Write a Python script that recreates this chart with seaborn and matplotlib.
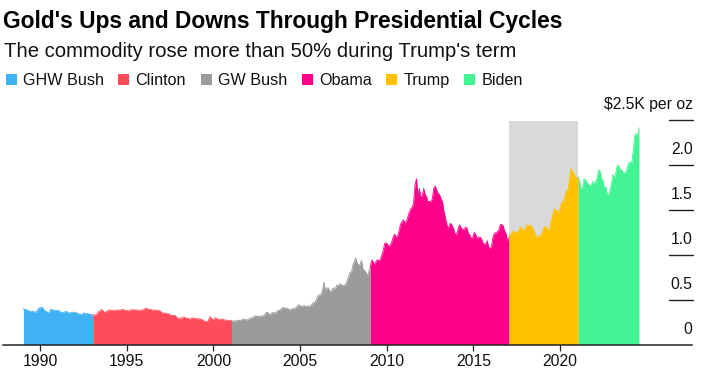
import numpy as np
import pandas as pd
import matplotlib
matplotlib.use("Agg")
import matplotlib.pyplot as plt
import matplotlib.transforms as mtransforms
from matplotlib.patches import Rectangle
import seaborn as sns

# ---------------- data (gold price, $K per oz, monthly) ----------------
presidents = ["GHW Bush", "Clinton", "GW Bush", "Obama", "Trump", "Biden"]
first_year = 1989

ghw_bush = [0.404, 0.388, 0.390, 0.384, 0.371, 0.367, 0.375, 0.365, 0.362, 0.367, 0.394, 0.409,
            0.410, 0.417, 0.393, 0.374, 0.369, 0.352, 0.362, 0.395, 0.389, 0.381, 0.381, 0.378,
            0.384, 0.364, 0.363, 0.358, 0.357, 0.367, 0.368, 0.356, 0.349, 0.359, 0.360, 0.361,
            0.354, 0.354, 0.345, 0.338, 0.337, 0.341, 0.353, 0.343, 0.345, 0.344, 0.335, 0.334]
clinton = [0.329, 0.329, 0.330, 0.342, 0.367, 0.372, 0.392, 0.379, 0.355, 0.364, 0.374, 0.383,
           0.387, 0.382, 0.384, 0.377, 0.381, 0.386, 0.385, 0.380, 0.391, 0.389, 0.384, 0.379,
           0.379, 0.376, 0.382, 0.391, 0.385, 0.387, 0.386, 0.383, 0.383, 0.383, 0.386, 0.387,
           0.400, 0.405, 0.396, 0.393, 0.392, 0.385, 0.383, 0.387, 0.383, 0.381, 0.378, 0.369,
           0.355, 0.347, 0.352, 0.344, 0.344, 0.341, 0.324, 0.324, 0.323, 0.325, 0.306, 0.289,
           0.289, 0.297, 0.296, 0.308, 0.299, 0.292, 0.293, 0.284, 0.289, 0.296, 0.294, 0.291,
           0.287, 0.287, 0.286, 0.282, 0.277, 0.262, 0.256, 0.257, 0.265, 0.311, 0.293, 0.283,
           0.284, 0.300, 0.286, 0.280, 0.275, 0.285, 0.281, 0.274, 0.273, 0.270, 0.266, 0.272]
gw_bush = [0.266, 0.262, 0.263, 0.261, 0.272, 0.270, 0.268, 0.273, 0.283, 0.283, 0.276, 0.276,
           0.282, 0.296, 0.294, 0.303, 0.314, 0.322, 0.314, 0.310, 0.319, 0.317, 0.319, 0.333,
           0.357, 0.359, 0.341, 0.328, 0.355, 0.356, 0.351, 0.360, 0.379, 0.379, 0.390, 0.407,
           0.414, 0.405, 0.406, 0.404, 0.384, 0.392, 0.398, 0.400, 0.406, 0.420, 0.439, 0.442,
           0.424, 0.423, 0.434, 0.429, 0.422, 0.431, 0.424, 0.438, 0.456, 0.470, 0.476, 0.510,
           0.549, 0.555, 0.557, 0.610, 0.695, 0.596, 0.633, 0.632, 0.598, 0.586, 0.627, 0.629,
           0.631, 0.664, 0.655, 0.679, 0.667, 0.655, 0.665, 0.665, 0.713, 0.754, 0.806, 0.803,
           0.889, 0.922, 0.968, 0.909, 0.888, 0.889, 0.939, 0.839, 0.829, 0.806, 0.761, 0.816]
obama = [0.858, 0.943, 0.924, 0.890, 0.928, 0.946, 0.934, 0.949, 0.996, 1.043, 1.127, 1.135,
         1.118, 1.095, 1.113, 1.148, 1.205, 1.232, 1.193, 1.215, 1.271, 1.343, 1.370, 1.391,
         1.356, 1.372, 1.424, 1.474, 1.512, 1.529, 1.572, 1.780, 1.850, 1.666, 1.739, 1.652,
         1.656, 1.743, 1.675, 1.649, 1.591, 1.598, 1.594, 1.627, 1.745, 1.770, 1.722, 1.685,
         1.671, 1.627, 1.593, 1.487, 1.414, 1.343, 1.286, 1.347, 1.349, 1.316, 1.275, 1.222,
         1.244, 1.300, 1.336, 1.299, 1.287, 1.279, 1.311, 1.296, 1.239, 1.222, 1.176, 1.201,
         1.251, 1.227, 1.179, 1.198, 1.199, 1.181, 1.131, 1.118, 1.125, 1.157, 1.086, 1.068,
         1.097, 1.199, 1.246, 1.242, 1.260, 1.276, 1.337, 1.340, 1.326, 1.266, 1.236, 1.152]
trump = [1.192, 1.234, 1.231, 1.266, 1.246, 1.260, 1.236, 1.283, 1.314, 1.280, 1.283, 1.265,
         1.331, 1.331, 1.325, 1.335, 1.304, 1.281, 1.238, 1.202, 1.198, 1.215, 1.221, 1.250,
         1.291, 1.320, 1.301, 1.286, 1.284, 1.359, 1.413, 1.500, 1.510, 1.495, 1.471, 1.480,
         1.560, 1.597, 1.592, 1.683, 1.716, 1.732, 1.847, 1.968, 1.922, 1.900, 1.866, 1.858]
biden = [1.867, 1.808, 1.718, 1.760, 1.850, 1.834, 1.807, 1.785, 1.775, 1.777, 1.821, 1.790,
         1.817, 1.856, 1.948, 1.937, 1.849, 1.837, 1.733, 1.764, 1.681, 1.665, 1.726, 1.798,
         1.898, 1.854, 1.912, 1.999, 1.992, 1.943, 1.951, 1.918, 1.916, 1.916, 1.985, 2.030,
         2.034, 2.023, 2.158, 2.331, 2.352, 2.326, 2.420]

x_ticks = [1990, 1995, 2000, 2005, 2010, 2015, 2020]
y_ticks = [0, 0.5, 1.0, 1.5, 2.0, 2.5]
y_tick_labels = ["0", "0.5", "1.0", "1.5", "2.0", "$2.5K per oz"]

title = "Gold's Ups and Downs Through Presidential Cycles"
subtitle = "The commodity rose more than 50% during Trump's term"

# ---------------- styling ----------------
palette = {"GHW Bush": "#41b1f6", "Clinton": "#ff4c5b", "GW Bush": "#9b9b9b",
           "Obama": "#fe0089", "Trump": "#ffc000", "Biden": "#41f393"}
shade_color = "#d9d9d9"

# Build segments (each segment also takes the next segment's first point so areas abut)
series = [ghw_bush, clinton, gw_bush, obama, trump, biden]
rows = []
offset = 0
bounds = []
for i, (name, vals) in enumerate(zip(presidents, series)):
    idx = np.arange(offset, offset + len(vals))
    t = first_year + (idx + 0.5) / 12.0
    v = list(vals)
    tt = list(t)
    if i + 1 < len(series):
        tt.append(first_year + (offset + len(vals) + 0.5) / 12.0)
        v.append(series[i + 1][0])
    bounds.append(t[0])
    for a, b in zip(tt, v):
        rows.append({"t": a, "price": b, "president": name})
    offset += len(vals)
df = pd.DataFrame(rows)

sns.set_theme(style="white")
plt.rcParams["font.family"] = ["Liberation Sans", "DejaVu Sans"]

W, H = 709, 379
fig = plt.figure(figsize=(W / 100, H / 100), dpi=100)
fig.patch.set_facecolor("white")

ax_left, ax_right, ax_top, ax_bottom = 3.3, 692.5, 120.5, 344.5
ax = fig.add_axes([ax_left / W, 1 - ax_bottom / H, (ax_right - ax_left) / W, (ax_bottom - ax_top) / H])
ax.set_facecolor("none")

# Trump term shading
ax.axvspan(bounds[4], bounds[5], ymin=0, ymax=1, color=shade_color, lw=0, zorder=0)

for name in presidents:
    seg = df[df["president"] == name]
    ax.fill_between(seg["t"], 0, seg["price"], color=palette[name], lw=0, zorder=2)

sns.lineplot(data=df, x="t", y="price", hue="president", hue_order=presidents,
             palette=palette, estimator=None, sort=True, legend=False,
             linewidth=0.6, ax=ax, zorder=3)

ax.set_xlim(1987.883, 2027.63)
ax.set_ylim(0, 2.5)
ax.set_xlabel("")
ax.set_ylabel("")

for s in ["left", "right", "top"]:
    ax.spines[s].set_visible(False)
ax.spines["bottom"].set_color("#222222")
ax.spines["bottom"].set_linewidth(1.1)
ax.spines["bottom"].set_zorder(5)

ax.set_xticks(x_ticks)
ax.set_xticklabels([str(x) for x in x_ticks])
ax.tick_params(axis="x", which="major", bottom=True, length=4.2, width=0.9,
               color="#222222", labelsize=11.3, labelcolor="#111111", pad=2.5)
ax.set_yticks([])

# Right-side value labels sitting above short tick lines
xfrac = (669.3 - ax_left) / (ax_right - ax_left)
lab_off = mtransforms.ScaledTranslation(0, 11.0 / 100, fig.dpi_scale_trans)
for v, lab in zip(y_ticks, y_tick_labels):
    if v > 0:
        ax.axhline(v, xmin=xfrac, xmax=1.0, color="#222222", lw=1.0, zorder=4, clip_on=False)
    ax.text(1.0, v, lab, transform=ax.get_yaxis_transform() + lab_off,
            ha="right", va="baseline", fontsize=11.3, color="#111111", clip_on=False)

# Titles
fig.text(3 / W, 1 - 27.7 / H, title, fontsize=16.4, fontweight="bold",
         color="#000000", va="baseline", ha="left")
fig.text(3.5 / W, 1 - 56.7 / H, subtitle, fontsize=14.6,
         color="#111111", va="baseline", ha="left")

# Legend
renderer = fig.canvas.get_renderer()
x = 5.6
base = 85.0
for name in presidents:
    fig.patches.append(Rectangle((x / W, 1 - base / H), 11 / W, 11.3 / H,
                                 transform=fig.transFigure, facecolor=palette[name],
                                 edgecolor="none", figure=fig))
    txt = fig.text((x + 17) / W, 1 - base / H, name, fontsize=11.6, color="#111111",
                   va="baseline", ha="left")
    bb = txt.get_window_extent(renderer)
    x = bb.x1 + 14.8

fig.savefig("out.png", dpi=100)
